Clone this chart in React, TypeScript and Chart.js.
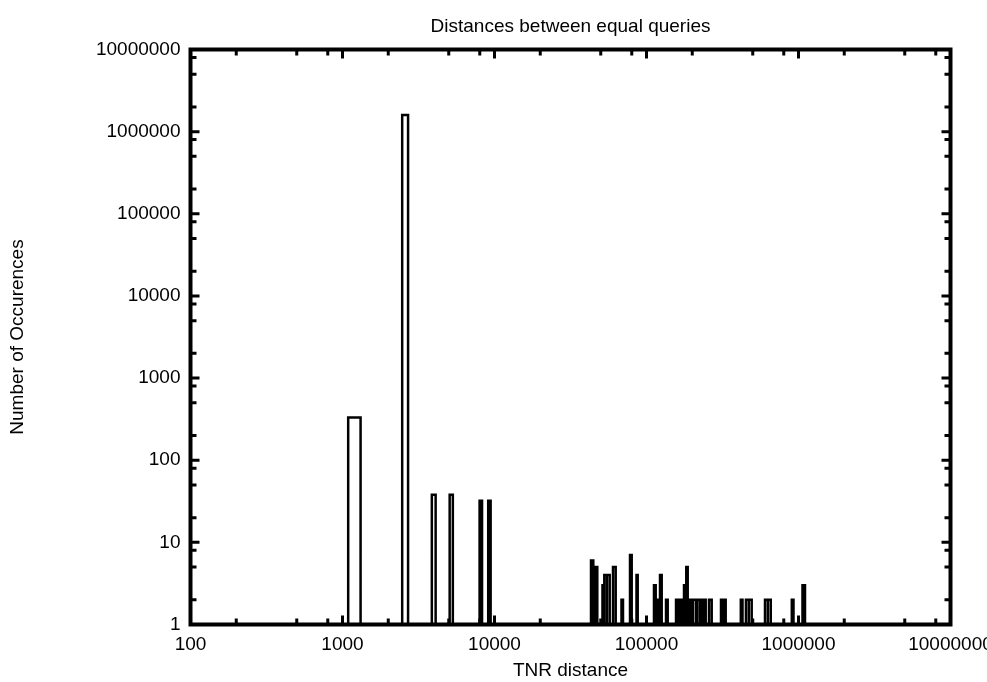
import React, { useEffect, useRef } from "react";
import { Chart, registerables } from "chart.js";

Chart.register(...registerables);

const TITLE = "Distances between equal queries";
const X_TITLE = "TNR distance";
const Y_TITLE = "Number of Occurences";

const X_TICKS = [100, 1000, 10000, 100000, 1000000, 10000000];
const Y_TICKS = [1, 10, 100, 1000, 10000, 100000, 1000000, 10000000];
const MINOR_MULTS = [2, 5, 8];

// Histogram boxes: left edge, right edge, count
const BIN_LEFT = [
  1090, 2470, 3870, 5070, 7980, 9090,
  43140, 46040, 51340, 52770, 54900, 60200, 68470, 77900, 85950,
  112000, 117270, 122700, 134400, 156400, 166900, 176500, 182700,
  192400, 202200, 214900, 230800, 238000, 257700, 309100, 320300,
  417300, 451100, 471000, 602000, 628500, 903600, 1062500,
];
const BIN_RIGHT = [
  1315, 2700, 4100, 5320, 8280, 9430,
  44670, 47450, 52520, 54900, 57270, 62720, 70050, 79920, 87530,
  114960, 119060, 125900, 137900, 161900, 172000, 181100, 186700,
  199200, 211700, 223900, 238000, 245200, 268500, 320300, 331900,
  428200, 471000, 492100, 628500, 656600, 927000, 1103500,
];
const COUNTS = [
  330, 1600000, 38, 38, 32, 32,
  6, 5, 3, 4, 4, 5, 2, 7, 4,
  3, 2, 4, 2, 2, 2, 3, 5,
  2, 2, 2, 2, 2, 2, 2, 2,
  2, 2, 2, 2, 2, 2, 3,
];

const FONT = '"Liberation Sans", Arial, Helvetica, sans-serif';

function buildBoxes() {
  const pts: { x: number; y: number }[] = [];
  for (let i = 0; i < COUNTS.length; i++) {
    pts.push({ x: BIN_LEFT[i], y: 1 });
    pts.push({ x: BIN_LEFT[i], y: COUNTS[i] });
    pts.push({ x: BIN_RIGHT[i], y: COUNTS[i] });
    pts.push({ x: BIN_RIGHT[i], y: 1 });
    pts.push({ x: BIN_RIGHT[i], y: NaN });
  }
  return pts;
}

const framePlugin = {
  id: "gnuframe",
  afterDatasetsDraw(chart: any) {
    const { ctx, chartArea: a, scales } = chart;
    const xs = scales.x;
    const ys = scales.y;
    ctx.save();
    ctx.strokeStyle = "#000";
    ctx.lineCap = "butt";
    ctx.lineWidth = 3;
    ctx.beginPath();
    const xTick = (v: number, len: number) => {
      const p = xs.getPixelForValue(v);
      ctx.moveTo(p, a.bottom);
      ctx.lineTo(p, a.bottom - len);
      ctx.moveTo(p, a.top);
      ctx.lineTo(p, a.top + len);
    };
    const yTick = (v: number, len: number) => {
      const p = ys.getPixelForValue(v);
      ctx.moveTo(a.left, p);
      ctx.lineTo(a.left + len, p);
      ctx.moveTo(a.right, p);
      ctx.lineTo(a.right - len, p);
    };
    X_TICKS.forEach((d, i) => {
      xTick(d, 9);
      if (i < X_TICKS.length - 1) MINOR_MULTS.forEach((m) => xTick(d * m, 6));
    });
    Y_TICKS.forEach((d, i) => {
      yTick(d, 9);
      if (i < Y_TICKS.length - 1) MINOR_MULTS.forEach((m) => yTick(d * m, 6));
    });
    ctx.stroke();
    ctx.lineWidth = 4;
    ctx.strokeRect(a.left, a.top, a.right - a.left, a.bottom - a.top);
    ctx.restore();
  },
};

export default function App() {
  const ref = useRef<HTMLCanvasElement | null>(null);
  useEffect(() => {
    if (!ref.current) return;
    const font = { family: FONT, size: 19, weight: "normal" as const };
    const chart = new Chart(ref.current, {
      type: "scatter",
      data: {
        datasets: [
          {
            data: buildBoxes(),
            showLine: true,
            spanGaps: false,
            borderColor: "#000",
            borderWidth: 2.5,
            pointRadius: 0,
            fill: false,
            tension: 0,
          } as any,
        ],
      },
      options: {
        animation: false,
        responsive: false,
        maintainAspectRatio: false,
        layout: { padding: { left: 0, right: 36.5, top: 0, bottom: 0 } },
        plugins: {
          legend: { display: false },
          tooltip: { enabled: false },
          title: {
            display: true,
            text: TITLE,
            color: "#000",
            fullSize: false,
            font,
            padding: { top: 15.6, bottom: 11.1 },
          },
        },
        scales: {
          x: {
            type: "logarithmic",
            position: "bottom",
            min: 100,
            max: 10000000,
            grid: { display: false, drawTicks: false },
            border: { display: false },
            ticks: {
              color: "#000",
              font,
              padding: 9,
              maxRotation: 0,
              minRotation: 0,
              autoSkip: false,
              callback: (v: any) => String(v),
            },
            title: { display: true, text: X_TITLE, color: "#000", font, padding: { top: 0, bottom: 0 } },
            afterBuildTicks: (s: any) => {
              s.ticks = X_TICKS.map((v) => ({ value: v }));
            },
            afterFit: (s: any) => {
              s.height = 682 - 624.5;
              s.paddingLeft = 0;
              s.paddingRight = 0;
            },
          },
          y: {
            type: "logarithmic",
            position: "left",
            min: 1,
            max: 10000000,
            grid: { display: false, drawTicks: false },
            border: { display: false },
            ticks: {
              color: "#000",
              font,
              padding: 10,
              autoSkip: false,
              callback: (v: any) => String(v),
            },
            title: { display: true, text: Y_TITLE, color: "#000", font, padding: { top: 6.6, bottom: 0 } },
            afterBuildTicks: (s: any) => {
              s.ticks = Y_TICKS.map((v) => ({ value: v }));
            },
            afterFit: (s: any) => {
              s.width = 190.5;
              s.paddingTop = 0;
              s.paddingBottom = 0;
            },
          },
        },
      } as any,
      plugins: [framePlugin],
    });
    return () => chart.destroy();
  }, []);
  return (
    <div style={{ position: "fixed", left: 0, top: 0, width: 987, height: 682, background: "#fff" }}>
      <canvas ref={ref} width={987} height={682} style={{ width: 987, height: 682, display: "block" }} />
    </div>
  );
}
